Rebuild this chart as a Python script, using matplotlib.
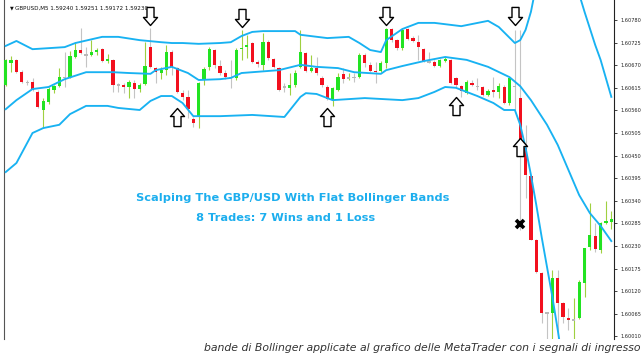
import numpy as np
import matplotlib
matplotlib.use("Agg")
import matplotlib.pyplot as plt
from matplotlib.path import Path

# candles: open, high, low, close (GBPUSD M5)
opens = [1.60622, 1.60675, 1.60683, 1.60653, 1.60629, 1.60629, 1.60605, 1.60561, 1.60580, 1.60610,
         1.60619, 1.60641, 1.60641, 1.60690, 1.60707, 1.60697, 1.60695, 1.60702, 1.60709, 1.60680,
         1.60683, 1.60622, 1.60622, 1.60617, 1.60627, 1.60612, 1.60624, 1.60714, 1.60663, 1.60651,
         1.60658, 1.60702, 1.60663, 1.60602, 1.60593, 1.60539, 1.60544, 1.60634, 1.60666, 1.60707,
         1.60668, 1.60651, 1.60641, 1.60639, 1.60709, 1.60714, 1.60724, 1.60678, 1.60671, 1.60726,
         1.60685, 1.60663, 1.60617, 1.60615, 1.60622, 1.60666, 1.60700, 1.60656, 1.60663, 1.60639,
         1.60617, 1.60585, 1.60610, 1.60649, 1.60639, 1.60641, 1.60641, 1.60695, 1.60671, 1.60656,
         1.60656, 1.60675, 1.60758, 1.60731, 1.60712, 1.60758, 1.60736, 1.60726, 1.60709, 1.60680,
         1.60678, 1.60668, 1.60680, 1.60683, 1.60639, 1.60619, 1.60602, 1.60627, 1.60619, 1.60617,
         1.60598, 1.60610, 1.60605, 1.60617, 1.60578, 1.60619, 1.60590, 1.60469, 1.60400, 1.60245,
         1.60164, 1.60067, 1.60067, 1.60152, 1.60091, 1.60055, 1.60050, 1.60055, 1.60140, 1.60228,
         1.60254, 1.60220, 1.60286, 1.60288]
highs = [1.60685, 1.60692, 1.60685, 1.60658, 1.60634, 1.60639, 1.60610, 1.60590, 1.60617, 1.60622,
         1.60663, 1.60702, 1.60705, 1.60726, 1.60761, 1.60714, 1.60731, 1.60712, 1.60712, 1.60697,
         1.60685, 1.60627, 1.60627, 1.60634, 1.60634, 1.60627, 1.60726, 1.60761, 1.60666, 1.60666,
         1.60719, 1.60707, 1.60666, 1.60610, 1.60610, 1.60544, 1.60629, 1.60666, 1.60714, 1.60709,
         1.60683, 1.60658, 1.60683, 1.60712, 1.60756, 1.60744, 1.60726, 1.60683, 1.60748, 1.60731,
         1.60688, 1.60666, 1.60627, 1.60651, 1.60658, 1.60756, 1.60702, 1.60695, 1.60690, 1.60644,
         1.60622, 1.60617, 1.60651, 1.60663, 1.60651, 1.60651, 1.60700, 1.60700, 1.60678, 1.60678,
         1.60680, 1.60761, 1.60761, 1.60734, 1.60761, 1.60761, 1.60741, 1.60744, 1.60712, 1.60702,
         1.60683, 1.60685, 1.60690, 1.60685, 1.60641, 1.60622, 1.60634, 1.60634, 1.60639, 1.60619,
         1.60612, 1.60641, 1.60627, 1.60622, 1.60641, 1.60756, 1.60756, 1.60525, 1.60403, 1.60247,
         1.60167, 1.60069, 1.60172, 1.60172, 1.60094, 1.60079, 1.60103, 1.60147, 1.60225, 1.60335,
         1.60286, 1.60288, 1.60340, 1.60315]
lows = [1.60619, 1.60653, 1.60651, 1.60627, 1.60622, 1.60607, 1.60566, 1.60517, 1.60576, 1.60602,
        1.60617, 1.60617, 1.60639, 1.60688, 1.60697, 1.60666, 1.60692, 1.60695, 1.60678, 1.60675,
        1.60605, 1.60605, 1.60602, 1.60590, 1.60590, 1.60605, 1.60622, 1.60663, 1.60627, 1.60636,
        1.60646, 1.60646, 1.60602, 1.60585, 1.60542, 1.60520, 1.60517, 1.60622, 1.60658, 1.60663,
        1.60646, 1.60636, 1.60615, 1.60634, 1.60683, 1.60688, 1.60675, 1.60666, 1.60658, 1.60683,
        1.60663, 1.60607, 1.60605, 1.60598, 1.60617, 1.60663, 1.60653, 1.60653, 1.60646, 1.60617,
        1.60585, 1.60571, 1.60607, 1.60627, 1.60634, 1.60629, 1.60639, 1.60666, 1.60653, 1.60627,
        1.60653, 1.60663, 1.60726, 1.60707, 1.60707, 1.60731, 1.60726, 1.60683, 1.60678, 1.60675,
        1.60666, 1.60666, 1.60678, 1.60624, 1.60617, 1.60593, 1.60600, 1.60619, 1.60610, 1.60595,
        1.60595, 1.60593, 1.60590, 1.60576, 1.60573, 1.60561, 1.60269, 1.60347, 1.60245, 1.60164,
        1.60043, 1.59989, 1.59989, 1.59989, 1.60043, 1.60026, 1.59989, 1.60052, 1.60106, 1.60220,
        1.60215, 1.60213, 1.60284, 1.60271]
closes = [1.60683, 1.60683, 1.60653, 1.60629, 1.60627, 1.60610, 1.60568, 1.60583, 1.60612, 1.60619,
          1.60641, 1.60641, 1.60692, 1.60707, 1.60700, 1.60695, 1.60702, 1.60707, 1.60680, 1.60685,
          1.60622, 1.60622, 1.60617, 1.60629, 1.60612, 1.60622, 1.60668, 1.60666, 1.60653, 1.60658,
          1.60702, 1.60666, 1.60605, 1.60593, 1.60563, 1.60529, 1.60627, 1.60661, 1.60709, 1.60671,
          1.60651, 1.60641, 1.60641, 1.60707, 1.60712, 1.60719, 1.60678, 1.60673, 1.60726, 1.60688,
          1.60666, 1.60610, 1.60617, 1.60622, 1.60651, 1.60702, 1.60656, 1.60663, 1.60651, 1.60622,
          1.60588, 1.60615, 1.60641, 1.60636, 1.60641, 1.60641, 1.60695, 1.60675, 1.60656, 1.60653,
          1.60675, 1.60758, 1.60731, 1.60712, 1.60756, 1.60734, 1.60729, 1.60714, 1.60680, 1.60678,
          1.60668, 1.60683, 1.60685, 1.60627, 1.60622, 1.60607, 1.60629, 1.60622, 1.60619, 1.60598,
          1.60607, 1.60605, 1.60619, 1.60578, 1.60639, 1.60619, 1.60469, 1.60403, 1.60245, 1.60167,
          1.60067, 1.60067, 1.60152, 1.60091, 1.60057, 1.60050, 1.60052, 1.60142, 1.60225, 1.60257,
          1.60223, 1.60286, 1.60291, 1.60296]

# bollinger bands (bar index, price)
upper_idx = [0, 2, 5, 11, 13, 18, 21, 25, 29, 31, 33, 36, 40, 42, 44, 46, 48, 54, 55, 60, 64, 66,
             68, 70, 71, 74, 77, 80, 85, 90, 92, 95, 96, 97, 98, 99, 100, 101, 102, 103, 104, 105,
             106, 107, 108, 110, 111, 113]
upper = [1.60717, 1.60729, 1.60709, 1.60714, 1.60724, 1.60739, 1.60739, 1.60731, 1.60726, 1.60724,
         1.60724, 1.60722, 1.60724, 1.60726, 1.60741, 1.60751, 1.60753, 1.60753, 1.60744, 1.60736,
         1.60739, 1.60724, 1.60707, 1.60702, 1.60731, 1.60758, 1.60773, 1.60773, 1.60765, 1.60778,
         1.60763, 1.60724, 1.60731, 1.60756, 1.60800, 1.60865, 1.60902, 1.60926, 1.60941, 1.60943,
         1.60936, 1.60914, 1.60882, 1.60843, 1.60800, 1.60719, 1.60683, 1.60593]
middle_idx = [0, 2, 5, 8, 11, 15, 20, 23, 27, 28, 31, 34, 36, 40, 42, 44, 46, 51, 55, 58, 62, 65,
              70, 71, 74, 78, 82, 86, 90, 94, 96, 97, 98, 101, 103, 105, 107, 109, 111, 113]
middle = [1.60563, 1.60585, 1.60612, 1.60617, 1.60636, 1.60653, 1.60653, 1.60651, 1.60649, 1.60658,
          1.60666, 1.60651, 1.60634, 1.60636, 1.60639, 1.60651, 1.60653, 1.60658, 1.60671, 1.60666,
          1.60663, 1.60653, 1.60649, 1.60658, 1.60668, 1.60680, 1.60690, 1.60683, 1.60666, 1.60641,
          1.60619, 1.60602, 1.60585, 1.60525, 1.60476, 1.60415, 1.60354, 1.60310, 1.60279, 1.60242]
lower_idx = [0, 2, 5, 7, 10, 12, 15, 19, 21, 25, 27, 29, 31, 33, 35, 40, 46, 52, 55, 56, 58, 61,
             67, 74, 77, 80, 82, 84, 88, 91, 93, 95, 96, 97, 98, 99, 100, 101, 102, 103, 104, 105]
lower = [1.60410, 1.60432, 1.60505, 1.60517, 1.60525, 1.60551, 1.60571, 1.60571, 1.60566, 1.60561,
         1.60583, 1.60595, 1.60595, 1.60578, 1.60546, 1.60546, 1.60549, 1.60544, 1.60593, 1.60602,
         1.60600, 1.60585, 1.60590, 1.60585, 1.60590, 1.60605, 1.60617, 1.60615, 1.60595, 1.60578,
         1.60561, 1.60561, 1.60525, 1.60469, 1.60403, 1.60330, 1.60252, 1.60179, 1.60106, 1.60026,
         1.59940, 1.59855]

# entry signals
sell_idx = [27, 44, 71, 95]
sell_price = [1.60768, 1.60763, 1.60768, 1.60768]
buy_idx = [32, 60, 84, 96]
buy_price = [1.60566, 1.60566, 1.60593, 1.60493]
loss_idx = [96]
loss_price = [1.60284]

price_ticks = [1.60780, 1.60725, 1.60670, 1.60615, 1.60560, 1.60505, 1.60450, 1.60395,
               1.60340, 1.60285, 1.60230, 1.60175, 1.60120, 1.60065, 1.60010]

W, H = 642, 360
fig = plt.figure(figsize=(W / 100, H / 100), dpi=100)
ax = fig.add_axes([4 / W, 21 / H, 610 / W, 339 / H])

o = np.array(opens); hi = np.array(highs); lo = np.array(lows); c = np.array(closes)
x = np.arange(len(o))
up = c > o
body_col = np.where(up, "#22e322", "#f2101e")
wick_col = np.where(up, "#9fd040", "#c4c4c4")
ax.vlines(x, lo, hi, colors=wick_col, linewidth=0.8, zorder=2)
bot = np.minimum(o, c)
ht = np.abs(c - o)
doji = ht < 0.00002
ax.bar(x[~doji], ht[~doji], bottom=bot[~doji], width=0.6, color=body_col[~doji],
       linewidth=0, zorder=3)
ax.bar(x[doji], 0.00003, bottom=bot[doji] - 0.000015, width=0.6, color="#b8b8b8",
       linewidth=0, zorder=3)

band_col = "#18b2f2"
for bi, bv in [(upper_idx, upper), (middle_idx, middle), (lower_idx, lower)]:
    ax.plot(bi, bv, color=band_col, linewidth=1.35, zorder=4, solid_joinstyle="round")

# hollow block arrows as custom markers, tip at the origin
down_arrow = Path([(0, 0), (-7, 8), (-3.5, 8), (-3.5, 18), (3.5, 18), (3.5, 8), (7, 8), (0, 0)],
                  closed=True)
up_arrow = Path([(0, 0), (-7, -8), (-3.5, -8), (-3.5, -18), (3.5, -18), (3.5, -8), (7, -8), (0, 0)],
                closed=True)
ax.plot(sell_idx, sell_price, linestyle="none", marker=down_arrow, markersize=26,
        markerfacecolor="white", markeredgecolor="black", markeredgewidth=1.0, zorder=6)
ax.plot(buy_idx, buy_price, linestyle="none", marker=up_arrow, markersize=26,
        markerfacecolor="white", markeredgecolor="black", markeredgewidth=1.0, zorder=6)
ax.plot(loss_idx, loss_price, linestyle="none", marker="x", markersize=6,
        markeredgecolor="black", markeredgewidth=2.6, zorder=6)

ax.set_xlim(-0.32, 113.5)
ax.set_ylim(1.600037, 1.608287)
ax.set_xticks([])
ax.yaxis.tick_right()
ax.set_yticks(price_ticks)
ax.set_yticklabels([f"{p:.5f}" for p in price_ticks])
ax.tick_params(axis="y", length=2.5, width=0.6, pad=2, labelsize=3.6, colors="#222222")
for s in ["top", "bottom"]:
    ax.spines[s].set_visible(False)
ax.spines["left"].set_color("#555555")
ax.spines["right"].set_color("#222222")
ax.spines["left"].set_linewidth(0.8)
ax.spines["right"].set_linewidth(0.8)

ax.text(6 / 610, 1 - 8 / 339, "\u25bc", transform=ax.transAxes, fontsize=3.5,
        va="center", ha="left", color="#111111", zorder=1)
ax.text(11 / 610, 1 - 8 / 339, "GBPUSD,M5 1.59240 1.59251 1.59172 1.59230",
        transform=ax.transAxes, fontsize=4.1, va="center", ha="left", color="#111111", zorder=1)

blue = "#1caeee"
fig.text(293 / W, 1 - 198 / H, "Scalping The GBP/USD With Flat Bollinger Bands",
         ha="center", va="center", fontsize=8.2, fontweight="bold", color=blue)
fig.text(286 / W, 1 - 218 / H, "8 Trades: 7 Wins and 1 Loss",
         ha="center", va="center", fontsize=8.2, fontweight="bold", color=blue)
fig.text(640 / W, 1 - 348 / H,
         "bande di Bollinger applicate al grafico delle MetaTrader con i segnali di ingresso",
         ha="right", va="center", fontsize=7.85, style="italic", color="#333333")

fig.savefig("out.png", dpi=100)
